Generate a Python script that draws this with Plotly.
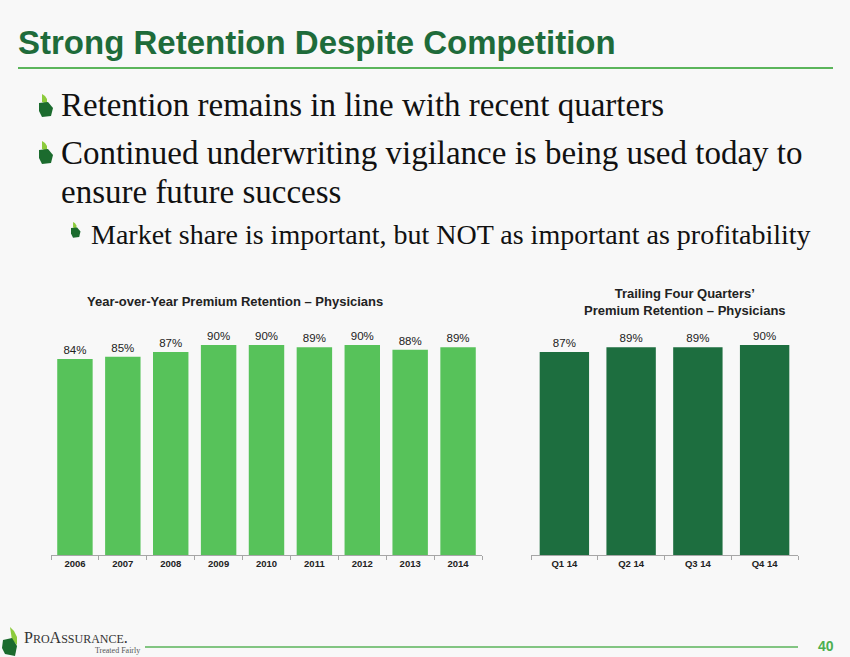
import plotly.graph_objects as go

# chart data
years = ['2006', '2007', '2008', '2009', '2010', '2011', '2012', '2013', '2014']
yoy_retention = [84, 85, 87, 90, 90, 89, 90, 88, 89]
quarters = ['Q1 14', 'Q2 14', 'Q3 14', 'Q4 14']
trailing_retention = [87, 89, 89, 90]

W, H = 850, 657
SANS = 'Liberation Sans'
SERIF = 'Liberation Serif'
DARK_GREEN = '#1E6B3A'
LIGHT_GREEN = '#57C25A'
BAR_DARK = '#1D6E3F'
LINE_GREEN = '#5BB55B'


def px(x):
    return x / W


def py(y):
    return 1 - y / H


fig = go.Figure()
fig.add_trace(go.Bar(x=years, y=yoy_retention, xaxis='x', yaxis='y',
                     marker=dict(color=LIGHT_GREEN, line=dict(width=0)),
                     texttemplate='%{y}%', textposition='outside', cliponaxis=False,
                     textfont=dict(family=SANS, size=11.5, color='#222222')))
fig.add_trace(go.Bar(x=quarters, y=trailing_retention, xaxis='x2', yaxis='y2',
                     marker=dict(color=BAR_DARK, line=dict(width=0)),
                     texttemplate='%{y}%', textposition='outside', cliponaxis=False,
                     textfont=dict(family=SANS, size=11.5, color='#222222')))

y_dom = [py(555), py(555 - 233.3)]
xaxis_common = dict(showline=True, linecolor='#A6A6A6', linewidth=1, ticks='outside',
                    tickson='boundaries', ticklen=4, tickcolor='#A6A6A6', showgrid=False,
                    tickfont=dict(family=SANS, size=9.5, color='#222222', weight='bold'),
                    fixedrange=True)
yaxis_common = dict(range=[0, 100], visible=False, showgrid=False, fixedrange=True, domain=y_dom)

fig.update_layout(
    width=W, height=H, margin=dict(l=0, r=0, t=0, b=0),
    paper_bgcolor='#F8F8F8', plot_bgcolor='#F8F8F8',
    showlegend=False, bargap=0.26,
    xaxis=dict(domain=[px(51), px(482)], anchor='y', **xaxis_common),
    yaxis=dict(anchor='x', **yaxis_common),
    xaxis2=dict(domain=[px(531), px(798)], anchor='y2', **xaxis_common),
    yaxis2=dict(anchor='x2', **yaxis_common),
)

annotations = [
    dict(text='<b>Strong Retention Despite Competition</b>', x=px(16), y=py(42),
         font=dict(family=SANS, size=33, color=DARK_GREEN)),
    dict(text='Retention remains in line with recent quarters', x=px(59), y=py(105),
         font=dict(family=SERIF, size=33, color='#111111')),
    dict(text='Continued underwriting vigilance is being used today to', x=px(59), y=py(153),
         font=dict(family=SERIF, size=33, color='#111111')),
    dict(text='ensure future success', x=px(59), y=py(192),
         font=dict(family=SERIF, size=33, color='#111111')),
    dict(text='Market share is important, but NOT as important as profitability', x=px(89), y=py(234),
         font=dict(family=SERIF, size=28, color='#111111')),
    dict(text='<b>Year-over-Year Premium Retention \u2013 Physicians</b>', x=px(235), y=py(301),
         xanchor='center', font=dict(family=SANS, size=13, color='#222222')),
    dict(text='<b>Trailing Four Quarters\u2019<br>Premium Retention \u2013 Physicians</b>', x=px(685), y=py(302),
         xanchor='center', font=dict(family=SANS, size=13, color='#222222')),
    dict(text='<b>40</b>', x=px(826), y=py(646), xanchor='center',
         font=dict(family=SANS, size=14, color='#4CAF50')),
    dict(text='P<span style="font-size:12px">RO</span>A<span style="font-size:12px">SSURANCE</span>.',
         x=px(22), y=py(637), font=dict(family=SERIF, size=16, color='#333333')),
    dict(text='Treated Fairly', x=px(93), y=py(650), font=dict(family=SERIF, size=8, color='#555555')),
]
for a in annotations:
    a.setdefault('xanchor', 'left')
    fig.add_annotation(xref='paper', yref='paper', yanchor='middle', showarrow=False, **a)

# header and footer rules
fig.add_shape(type='line', xref='paper', yref='paper', x0=px(18), x1=px(833), y0=py(68), y1=py(68),
              line=dict(color=LINE_GREEN, width=2))
fig.add_shape(type='line', xref='paper', yref='paper', x0=px(145), x1=px(798), y0=py(647), y1=py(647),
              line=dict(color=LINE_GREEN, width=1.5))


def leaf(x0, y0, s, tip_pts, body_pts):
    # leaf-shaped mark: light green tip + dark green body
    def path(pts):
        coords = [f'{px(x0 + dx * s):.5f},{py(y0 + dy * s):.5f}' for dx, dy in pts]
        return 'M ' + ' L '.join(coords) + ' Z'
    fig.add_shape(type='path', xref='paper', yref='paper', path=path(tip_pts),
                  fillcolor='#8CCB3C', line=dict(width=0))
    fig.add_shape(type='path', xref='paper', yref='paper', path=path(body_pts),
                  fillcolor='#1B6B2E', line=dict(width=0))


bullet_tip = [(3, 0), (6, 2), (8, 5), (8, 10), (3, 8)]
bullet_body = [(0, 9), (9, 8), (14, 14), (12, 22), (3, 23), (0, 17)]
leaf(39, 94, 1.0, bullet_tip, bullet_body)
leaf(39, 141, 1.0, bullet_tip, bullet_body)
leaf(71, 222, 0.68, bullet_tip, bullet_body)

logo_tip = [(8, 0), (12, 4), (15, 10), (15, 18), (10, 13)]
logo_body = [(1, 13), (10, 11), (15, 19), (13, 29), (3, 27), (0, 21)]
leaf(2, 627, 1.0, logo_tip, logo_body)

fig.write_html('out.html', config={'displayModeBar': False},
               post_script="document.body.style.margin='0';")
